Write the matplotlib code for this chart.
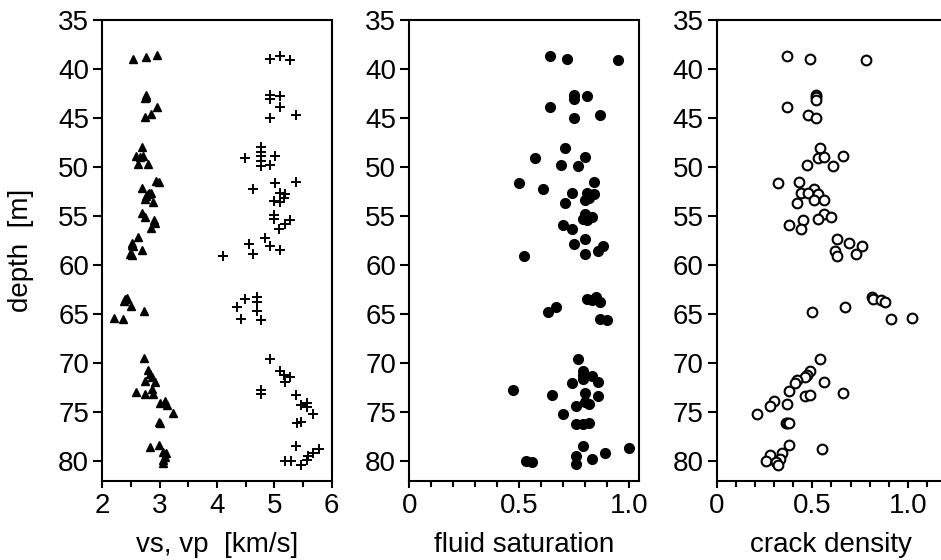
import matplotlib
matplotlib.use('Agg')
import matplotlib.pyplot as plt
from matplotlib.ticker import MultipleLocator

plt.rcParams['font.family'] = ['Liberation Sans', 'DejaVu Sans']
plt.rcParams['font.size'] = 20

# vs (triangles)
vs_val = [2.54, 2.77, 2.95, 2.76, 2.76, 2.74, 2.95, 2.85, 2.74, 2.70, 2.59, 2.66, 2.71, 2.63, 2.80,
          2.93, 2.98, 2.70, 2.85, 2.80, 2.77, 2.74, 2.88, 2.82, 2.70, 2.74, 2.90, 2.92, 2.85, 2.63,
          2.51, 2.51, 2.53, 2.48, 2.51, 2.69, 2.40, 2.43, 2.37, 2.50, 2.73, 2.21, 2.36, 2.73, 2.80,
          2.83, 2.86, 2.92, 2.74, 2.59, 2.74, 2.89, 2.86, 3.01, 3.09, 3.12, 3.23, 2.99, 3.01, 2.83,
          2.98, 3.06, 3.11, 3.09, 3.06, 3.05]
vs_depth = [39.0, 38.8, 38.6, 42.7, 42.9, 43.0, 43.9, 44.6, 44.9, 48.0, 48.9, 49.0, 48.9, 49.7, 49.7,
            51.4, 51.5, 52.1, 52.6, 52.8, 53.0, 53.3, 53.6, 52.7, 54.7, 55.1, 55.4, 55.7, 56.2, 57.1,
            57.7, 58.0, 58.1, 58.9, 59.0, 58.5, 63.5, 63.4, 63.7, 64.2, 64.7, 65.4, 65.5, 69.5, 70.7,
            71.1, 71.4, 71.9, 71.8, 73.0, 73.2, 73.2, 72.6, 74.1, 73.9, 74.3, 75.1, 76.0, 76.1, 78.6,
            78.4, 79.1, 79.2, 79.6, 79.9, 80.2]

# vp (plus signs)
vp_val = [4.92, 5.10, 5.27, 4.92, 4.92, 5.10, 5.10, 4.92, 5.38, 4.77, 4.77, 4.77, 4.77, 4.48, 5.01,
          4.77, 4.92, 5.38, 5.01, 4.62, 5.10, 5.19, 5.00, 5.09, 5.16, 5.00, 5.00, 5.27, 5.19, 5.08,
          4.84, 4.56, 4.92, 5.09, 4.62, 4.11, 4.49, 4.70, 4.70, 4.35, 4.70, 4.42, 4.77, 4.92, 5.10,
          5.16, 5.27, 5.19, 4.77, 4.77, 5.38, 5.46, 5.56, 5.56, 5.68, 5.39, 5.46, 5.38, 5.78, 5.68,
          5.58, 5.56, 5.19, 5.29, 5.46]
vp_depth = [39.0, 38.7, 39.1, 42.7, 43.1, 42.8, 43.9, 45.0, 44.7, 48.0, 48.5, 48.9, 49.4, 49.1, 48.9,
            49.9, 49.8, 51.5, 51.6, 52.2, 52.6, 52.8, 53.5, 53.6, 53.2, 54.9, 55.3, 55.4, 55.8, 56.3,
            57.2, 57.9, 58.1, 58.5, 58.9, 59.1, 63.5, 63.3, 63.8, 64.3, 64.7, 65.5, 65.6, 69.6, 70.8,
            71.2, 71.4, 71.9, 72.7, 73.2, 73.3, 74.3, 74.1, 74.5, 75.2, 76.1, 76.0, 78.5, 78.8, 79.2,
            79.5, 79.9, 80.0, 80.0, 80.4]

# fluid saturation
sat_val = [0.64, 0.72, 0.95, 0.75, 0.75, 0.81, 0.64, 0.75, 0.87, 0.71, 0.57, 0.80, 0.69, 0.77, 0.50,
           0.61, 0.84, 0.74, 0.81, 0.84, 0.82, 0.80, 0.71, 0.80, 0.79, 0.81, 0.83, 0.70, 0.74, 0.80,
           0.75, 0.88, 0.52, 0.80, 0.86, 0.81, 0.83, 0.85, 0.87, 0.63, 0.67, 0.87, 0.90, 0.77, 0.79,
           0.79, 0.79, 0.83, 0.74, 0.86, 0.47, 0.65, 0.80, 0.80, 0.82, 0.86, 0.76, 0.70, 0.76, 0.79,
           0.82, 0.79, 1.00, 0.76, 0.89, 0.53, 0.56, 0.76, 0.83]
sat_depth = [38.7, 39.0, 39.1, 42.7, 43.1, 42.8, 43.9, 45.0, 44.7, 48.1, 49.1, 49.0, 49.8, 49.9, 51.6,
             52.2, 51.5, 52.6, 52.7, 52.8, 53.2, 53.4, 53.7, 54.8, 55.3, 55.4, 55.1, 55.9, 56.3, 57.3,
             57.9, 58.1, 59.1, 58.9, 58.6, 63.5, 63.6, 63.3, 63.8, 64.8, 64.3, 65.5, 65.6, 69.6, 70.8,
             71.2, 71.6, 71.3, 72.0, 71.9, 72.7, 73.3, 73.1, 74.0, 74.2, 73.4, 74.4, 75.2, 76.2, 76.2,
             76.1, 78.5, 78.7, 79.5, 79.2, 80.0, 80.1, 80.3, 79.8]

# crack density
crack_val = [0.37, 0.49, 0.78, 0.52, 0.52, 0.52, 0.37, 0.48, 0.52, 0.54, 0.53, 0.56, 0.66, 0.47, 0.61,
             0.32, 0.43, 0.51, 0.44, 0.48, 0.53, 0.51, 0.56, 0.42, 0.56, 0.60, 0.53, 0.45, 0.38, 0.44,
             0.63, 0.69, 0.76, 0.62, 0.63, 0.73, 0.50, 0.67, 0.81, 0.82, 0.86, 0.88, 0.91, 1.02, 0.54,
             0.49, 0.47, 0.46, 0.42, 0.41, 0.56, 0.38, 0.66, 0.46, 0.49, 0.30, 0.28, 0.37, 0.21, 0.36,
             0.37, 0.38, 0.38, 0.55, 0.34, 0.28, 0.33, 0.26, 0.31, 0.32]
crack_depth = [38.7, 39.0, 39.1, 42.7, 42.9, 43.2, 43.9, 44.7, 45.0, 48.1, 49.1, 49.0, 48.9, 49.8, 49.9,
               51.6, 51.5, 52.2, 52.6, 52.7, 52.8, 53.4, 53.4, 53.7, 54.8, 55.1, 55.3, 55.4, 55.9, 56.3,
               57.3, 57.8, 58.1, 58.6, 59.1, 58.9, 64.8, 64.3, 63.3, 63.5, 63.6, 63.8, 65.5, 65.4, 69.6,
               70.8, 71.2, 71.4, 71.7, 72.0, 71.9, 72.8, 73.1, 73.4, 73.3, 73.9, 74.4, 74.2, 75.2, 76.1,
               76.1, 76.1, 78.4, 78.8, 79.2, 79.4, 79.8, 80.0, 80.1, 80.4]

fig = plt.figure(figsize=(9.41, 5.6), dpi=100)
bottom, height = 0.1416, 0.8227
width = 0.2439
ax1 = fig.add_axes([0.1087, bottom, width, height])
ax2 = fig.add_axes([0.4350, bottom, width, height])
ax3 = fig.add_axes([0.7616, bottom, width, height])

ax1.plot(vs_val, vs_depth, '^', color='black', markersize=5.5, linestyle='none')
ax1.plot(vp_val, vp_depth, '+', color='black', markersize=7, markeredgewidth=1.4, linestyle='none')
ax2.plot(sat_val, sat_depth, 'o', color='black', markersize=7, linestyle='none')
ax3.plot(crack_val, crack_depth, 'o', markerfacecolor='white', markeredgecolor='black',
         markersize=7, markeredgewidth=1.5, linestyle='none')

ax1.set_xlim(2, 6)
ax1.xaxis.set_major_locator(MultipleLocator(1))
ax1.xaxis.set_minor_locator(MultipleLocator(0.5))
ax1.set_xlabel('vs, vp  [km/s]', labelpad=9)
ax1.set_ylabel('depth  [m]', labelpad=17)

ax2.set_xlim(0, 1.045)
ax2.set_xticks([0, 0.5, 1.0])
ax2.set_xticklabels(['0', '0.5', '1.0'])
ax2.xaxis.set_minor_locator(MultipleLocator(0.1))
ax2.set_xlabel('fluid saturation', labelpad=9)

ax3.set_xlim(0, 1.2)
ax3.set_xticks([0, 0.5, 1.0])
ax3.set_xticklabels(['0', '0.5', '1.0'])
ax3.xaxis.set_minor_locator(MultipleLocator(0.1))
ax3.set_xlabel('crack density', labelpad=9)

for ax in (ax1, ax2, ax3):
    ax.set_ylim(82, 35)
    ax.set_yticks(range(35, 81, 5))
    for s in ax.spines.values():
        s.set_linewidth(1.5)
    ax.tick_params(axis='y', which='major', direction='out', length=6.5, width=1.5, labelsize=20, pad=3)
    ax.tick_params(axis='x', which='major', direction='out', length=5, width=1.5, labelsize=20, pad=4)
    ax.tick_params(axis='x', which='minor', direction='out', length=4, width=1.5)

plt.savefig('out.png', dpi=100)
